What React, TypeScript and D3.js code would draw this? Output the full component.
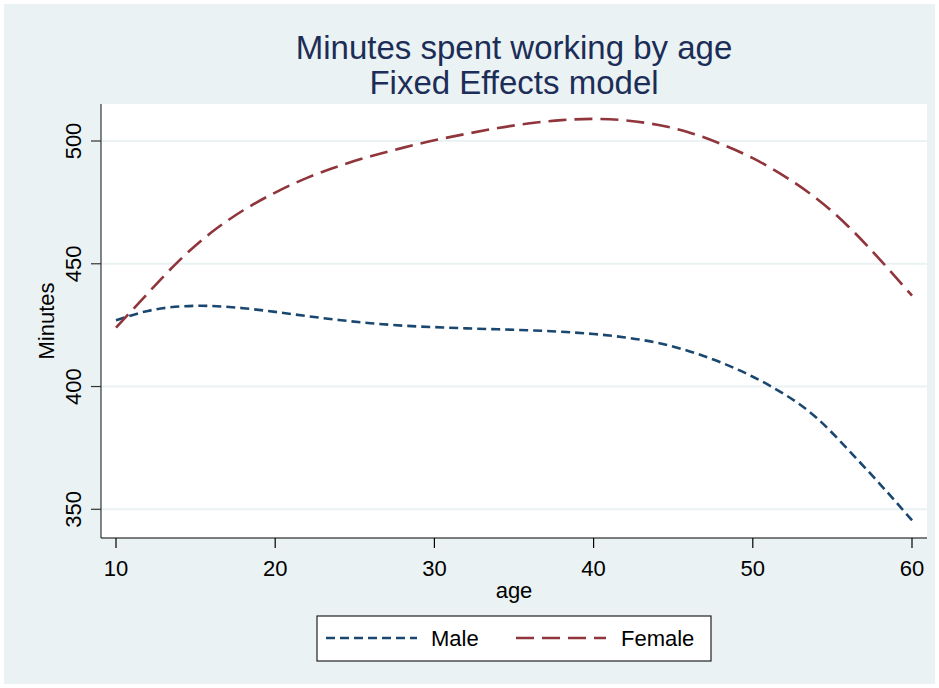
import * as d3 from "d3";
import React from "react";

// values
const ages = [10, 12, 14, 16, 18, 20, 22, 24, 26, 28, 30, 32, 34, 36, 38, 40, 42, 44, 46, 48, 50, 52, 54, 56, 58, 60];
const male = [427, 430.8, 432.6, 432.8, 431.9, 430.4, 428.7, 427.1, 425.8, 424.8, 424.2, 423.7, 423.3, 422.9, 422.3, 421.4, 420, 417.8, 414.4, 409.8, 404, 396.8, 387.3, 374.2, 360.2, 345.5];
const female = [424, 438, 451.5, 462.8, 471.8, 479, 485, 489.8, 493.8, 497.2, 500.3, 502.9, 505.3, 507.2, 508.5, 509, 508.4, 506.6, 503.5, 498.8, 493, 485.6, 476.6, 465.2, 451.6, 437];
const xTicks = [10, 20, 30, 40, 50, 60];
const yTicks = [350, 400, 450, 500];

const W = 939;
const H = 688;
const BG = "#eaf2f3";
const FONT = "'Liberation Sans', Arial, Helvetica, sans-serif";
const MALE_COLOR = "#1a476f";
const FEMALE_COLOR = "#90353b";
const TITLE_COLOR = "#1c2d58";

const plot = { left: 101, right: 927, top: 104, bottom: 538 };

export default function App() {
  const x = d3.scaleLinear().domain([10, 60]).range([116, 912]);
  const y = d3.scaleLinear().domain([350, 500]).range([509.3, 141]);

  const line = d3
    .line<number>()
    .x((_, i) => x(ages[i]))
    .y((d) => y(d))
    .curve(d3.curveNatural);

  return (
    <svg
      width={W}
      height={H}
      style={{ position: "absolute", left: 0, top: 0, display: "block" }}
      fontFamily={FONT}
    >
      <rect x={0} y={0} width={W} height={H} fill="#ffffff" />
      <rect x={4} y={4} width={931} height={680} fill={BG} />
      <rect
        x={plot.left}
        y={plot.top}
        width={plot.right - plot.left}
        height={plot.bottom - plot.top}
        fill="#ffffff"
      />

      {/* grid */}
      {yTicks.map((t) => (
        <line
          key={"g" + t}
          x1={plot.left}
          x2={plot.right}
          y1={y(t)}
          y2={y(t)}
          stroke={BG}
          strokeWidth={2}
        />
      ))}

      {/* title */}
      <text x={514} y={59} textAnchor="middle" fontSize={33} fill={TITLE_COLOR}>
        Minutes spent working by age
      </text>
      <text x={514} y={94} textAnchor="middle" fontSize={33} fill={TITLE_COLOR}>
        Fixed Effects model
      </text>

      {/* lines */}
      <path
        d={line(male) || ""}
        fill="none"
        stroke={MALE_COLOR}
        strokeWidth={2.6}
        strokeDasharray="9,5"
      />
      <path
        d={line(female) || ""}
        fill="none"
        stroke={FEMALE_COLOR}
        strokeWidth={2.6}
        strokeDasharray="18,8"
      />

      {/* y axis */}
      <line x1={plot.left} x2={plot.left} y1={plot.top} y2={plot.bottom} stroke="#333" strokeWidth={1.2} />
      {yTicks.map((t) => (
        <g key={"y" + t}>
          <line x1={91} x2={plot.left} y1={y(t)} y2={y(t)} stroke="#333" strokeWidth={1.2} />
          <text
            transform={`translate(81,${y(t)}) rotate(-90)`}
            textAnchor="middle"
            fontSize={22}
            fill="#000"
          >
            {t}
          </text>
        </g>
      ))}
      <text
        transform={`translate(53.5,${(plot.top + plot.bottom) / 2}) rotate(-90)`}
        textAnchor="middle"
        fontSize={22}
        fill="#000"
      >
        Minutes
      </text>

      {/* x axis */}
      <line x1={plot.left} x2={plot.right} y1={plot.bottom} y2={plot.bottom} stroke="#000" strokeWidth={1.2} />
      {xTicks.map((t) => (
        <g key={"x" + t}>
          <line x1={x(t)} x2={x(t)} y1={plot.bottom} y2={plot.bottom + 10} stroke="#000" strokeWidth={1.2} />
          <text x={x(t)} y={576} textAnchor="middle" fontSize={22} fill="#000">
            {t}
          </text>
        </g>
      ))}
      <text x={514} y={598} textAnchor="middle" fontSize={22} fill="#000">
        age
      </text>

      {/* legend */}
      <rect x={317} y={616} width={394} height={45} fill="#ffffff" stroke="#222" strokeWidth={1.2} />
      <line x1={326} x2={417} y1={638} y2={638} stroke={MALE_COLOR} strokeWidth={2.6} strokeDasharray="9,5" />
      <text x={431} y={646} fontSize={22} fill="#000">
        Male
      </text>
      <line x1={516} x2={606} y1={638} y2={638} stroke={FEMALE_COLOR} strokeWidth={2.6} strokeDasharray="18,8" />
      <text x={621} y={646} fontSize={22} fill="#000">
        Female
      </text>
    </svg>
  );
}
